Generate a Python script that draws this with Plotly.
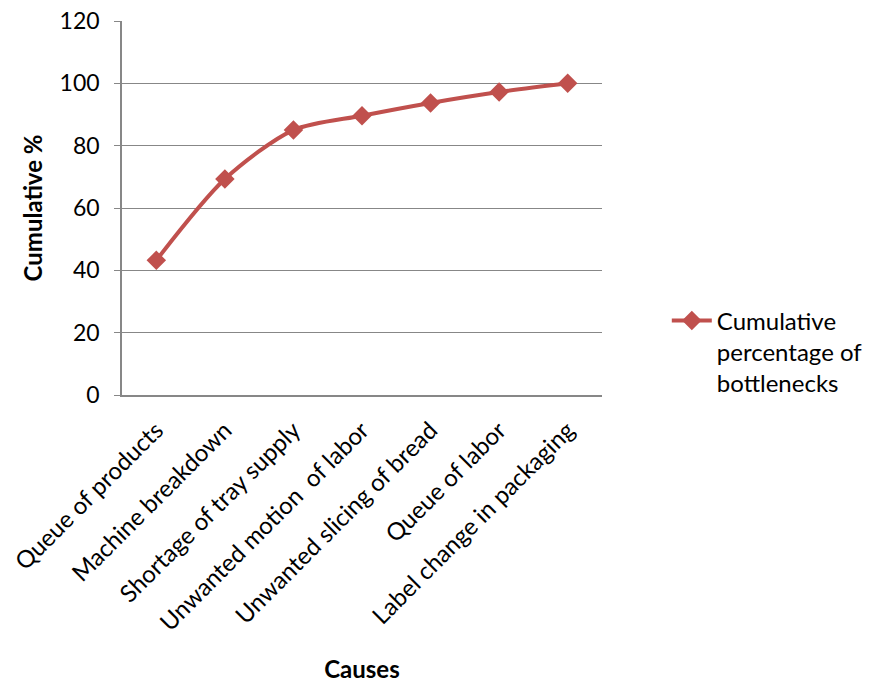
import plotly.graph_objects as go

causes = [
    "Queue of products",
    "Machine breakdown",
    "Shortage of tray supply",
    "Unwanted motion  of labor",
    "Unwanted slicing of bread",
    "Queue of labor",
    "Label change in packaging",
]
cumulative_pct = [43.2, 69.3, 85.0, 89.6, 93.7, 97.2, 100.0]
y_ticks = [0, 20, 40, 60, 80, 100, 120]

line_color = "#C0504D"
grid_color = "#878787"
font_family = "Lato, Open Sans, sans-serif"

fig = go.Figure()
fig.add_trace(go.Scatter(
    x=causes,
    y=cumulative_pct,
    mode="lines+markers",
    name="Cumulative<br>percentage of<br>bottlenecks",
    line=dict(color=line_color, width=4, shape="spline", smoothing=0.8),
    marker=dict(symbol="diamond", size=15, color=line_color),
))

fig.update_layout(
    width=870,
    height=683,
    margin=dict(l=122, r=268, t=21, b=288, autoexpand=False),
    paper_bgcolor="white",
    plot_bgcolor="white",
    font=dict(family=font_family, size=22, color="#000000"),
    showlegend=True,
    legend=dict(
        x=1.135, y=0.115, xanchor="left", yanchor="middle",
        valign="top",
        font=dict(size=24), itemwidth=40, tracegroupgap=0,
    ),
    xaxis=dict(
        type="category",
        range=[-0.5, 6.5],
        tickangle=-45,
        automargin=False,
        showgrid=False,
        showline=True, linecolor=grid_color, linewidth=1.5,
        ticks="", tickfont=dict(size=24),
        ticklabelstandoff=10,
        title=dict(text="<b>Causes</b>", font=dict(size=24), standoff=36),
    ),
    yaxis=dict(
        range=[0, 120],
        tickvals=y_ticks,
        automargin=False,
        showgrid=True, gridcolor=grid_color, gridwidth=1.2,
        showline=True, linecolor=grid_color, linewidth=1.5,
        ticks="outside", ticklen=6, tickcolor=grid_color,
        tickfont=dict(size=23),
        ticklabelstandoff=10,
        zeroline=False,
        title=dict(text="<b>Cumulative %</b>", font=dict(size=24), standoff=10),
    ),
)

fig.write_html("out.html")
